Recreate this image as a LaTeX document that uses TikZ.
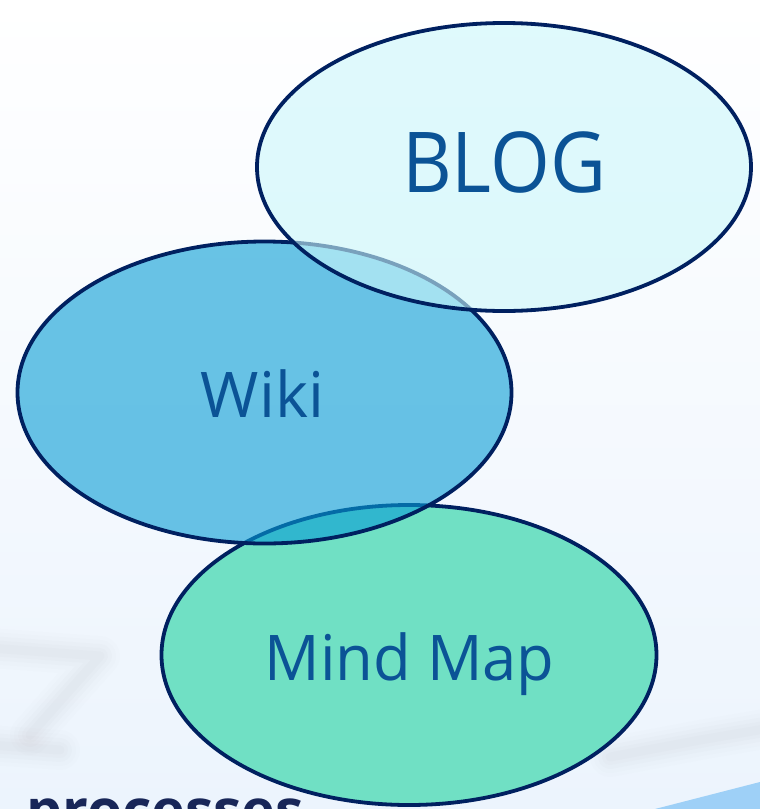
\documentclass[tikz,border=0pt]{standalone}
\usepackage{fontspec}
\setmainfont{Open Sans}
\usetikzlibrary{shapes.geometric}
\definecolor{outl}{RGB}{0,32,96}
\definecolor{blogfill}{RGB}{203,247,250}
\definecolor{wikifill}{RGB}{8,157,213}
\definecolor{mindfill}{RGB}{112,224,196}
\definecolor{txt}{RGB}{11,83,150}
\definecolor{bgmid}{RGB}{248,251,254}
\definecolor{bgbot}{RGB}{236,244,253}
\definecolor{bluepatch}{RGB}{158,208,247}
\definecolor{navytext}{RGB}{24,38,88}
\tikzset{
  bubble/.style={ellipse, draw=outl, line width=3.8pt, inner sep=0pt},
  bubbletext/.style={anchor=base, inner sep=0pt, text=txt},
  haze/.style={draw=gray, line cap=round, line join=round},
}
\begin{document}
\begin{tikzpicture}[x=1pt,y=-1pt]
\useasboundingbox (0,0) rectangle (760,809);
\clip (0,0) rectangle (760,809);
% background
\shade[top color=white, middle color=bgmid, bottom color=bgbot] (0,0) rectangle (760,809);
% faint blurred background strokes
\foreach \w/\o in {40/0.012,32/0.015,24/0.018,16/0.02,9/0.022}{
  \draw[haze, line width=\w pt, opacity=\o] (-10,648) -- (100,656) -- (30,735);
  \draw[haze, line width=\w pt, opacity=\o] (-10,745) -- (60,750);
  \draw[haze, line width=\w pt, opacity=\o] (610,757) -- (700,740) -- (770,728);
}
\fill[bluepatch] (655,809) -- (760,782) -- (760,809) -- cycle;
% bottom cut-off text
\node[anchor=base west, inner sep=0pt, text=navytext, font=\fontsize{57}{60}\selectfont\bfseries] (proc) at (26,830) {processes};
% ellipses
\node[bubble, fill=mindfill, minimum width=495pt, minimum height=300pt] (mind) at (409,655) {};
\node[bubble, fill=wikifill, fill opacity=0.6, minimum width=494pt, minimum height=302pt] (wiki) at (264.5,392.5) {};
\node[bubble, fill=blogfill, fill opacity=0.6, minimum width=494pt, minimum height=288pt] (blog) at (504,167) {};
% labels
\node[bubbletext, font=\fontsize{84}{90}\selectfont] (blogtext) at (504,192) {\scalebox{0.915}[1]{BLOG}};
\node[bubbletext, font=\fontsize{63}{70}\selectfont] (wikitext) at (262.5,417) {Wiki};
\node[bubbletext, font=\fontsize{63}{70}\selectfont] (mindtext) at (409.5,680) {\scalebox{0.976}[1]{Mind Map}};
\end{tikzpicture}
\end{document}
